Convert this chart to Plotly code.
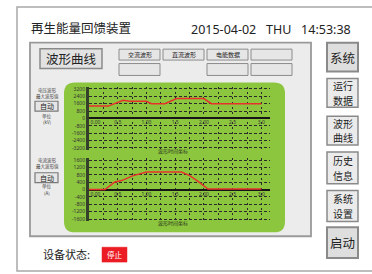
import plotly.graph_objects as go

# ---------------- data ----------------
top_x = [0, 1.34, 2.38, 2.85, 4.0, 4.35, 5.28, 5.63, 6.1, 7.99, 8.52, 12.0]
top_y = [1340, 1340, 1960, 1860, 1860, 1600, 1600, 1860, 2150, 2150, 1600, 1600]
bot_x = [0, 1.11, 1.8, 2.27, 3.08, 4.0, 6.44, 7.01, 7.59, 8.28, 12.0]
bot_y = [0, 0, 420, 490, 760, 960, 960, 760, 450, 30, 30]

top_ticks = [-3200, -2400, -1600, -800, 0, 800, 1600, 2400, 3200]
top_ticktext = ["-3200", "-2400", "-1600", "-800", "0", "800", "1600", "2400", "3200"]
bot_ticks = [-1600, -1200, -800, -400, 0, 400, 800, 1200, 1600]
bot_ticktext = ["-1600", "-1200", "-800", "-400", "0", "400", "800", "1200", "1600"]
x_tickvals = [0.45, 2, 4, 6, 8, 10, 12]
x_ticktext = ["0.00", "0.5", "1.00", "1.5", "2.00", "2.5", "3.0"]

title_text = "再生能量回馈装置"
date_text = "2015-04-02   THU   14:53:38"
tab_labels = ["交流波形", "直流波形", "电能数据", ""]
side_buttons = [["系统"], ["运行", "数据"], ["波形", "曲线"], ["历史", "信息"], ["系统", "设置"], ["启动"]]
status_label = "设备状态:"
status_value = "停止"

# ---------------- helpers ----------------
W, H = 372, 274
def X(px): return px / W
def Y(py): return 1 - py / H
def P(px, py): return f"{X(px):.5f},{Y(py):.5f}"

CJK = "Noto Sans CJK SC"
shapes = []
ann = []

def rect(x0, y0, x1, y1, fill="rgba(0,0,0,0)", line="#8c8c8c", lw=1.5):
    shapes.append(dict(type="rect", xref="paper", yref="paper", x0=X(x0), x1=X(x1), y0=Y(y1), y1=Y(y0),
                       fillcolor=fill, line=dict(color=line, width=lw), layer="below"))

def text(px, py, s, size, color="#222", font=CJK, xanchor="center"):
    ann.append(dict(xref="paper", yref="paper", x=X(px), y=Y(py), text=s, showarrow=False,
                    xanchor=xanchor, yanchor="middle", borderpad=0,
                    font=dict(size=size, color=color, family=font)))

def rrect_path(x0, y0, x1, y1, r):
    return (f"M {P(x0+r,y0)} L {P(x1-r,y0)} Q {P(x1,y0)} {P(x1,y0+r)} L {P(x1,y1-r)} "
            f"Q {P(x1,y1)} {P(x1-r,y1)} L {P(x0+r,y1)} Q {P(x0,y1)} {P(x0,y1-r)} "
            f"L {P(x0,y0+r)} Q {P(x0,y0)} {P(x0+r,y0)} Z")

# outer frame and panel
rect(17, 6, 385, 272, line="#a8a8a8", lw=1.5)
rect(30, 42, 311, 237, fill="#ececec", line="#9a9a9a", lw=1.8)
# buttons
rect(40, 48, 102, 68, fill="#e2e2e2", line="#8a8a8a", lw=1.5)
text(71, 58, "波形曲线", 12.5)
tab_x = [119, 163, 207, 251]
for tx, lab in zip(tab_x, tab_labels):
    rect(tx, 48.5, tx + 41, 59.5, fill="#e6e6e6", line="#8c8c8c", lw=1)
    if lab:
        text(tx + 20.5, 54, lab, 6)
for tx in [119, 207, 251]:
    rect(tx, 63, tx + 41, 75, fill="#e6e6e6", line="#8c8c8c", lw=1)

# green area
shapes.append(dict(type="path", xref="paper", yref="paper", path=rrect_path(64, 82, 285, 233, 11),
                   fillcolor="#8cc63f", line=dict(width=0), layer="below"))

# left small labels
for (y1, y2, yb, yu1, yu2, l1, unit) in [(90, 96, 106, 116, 122, "电压波形", "(kV)"), (161, 167, 178, 187, 193, "电流波形", "(A)")]:
    text(47, y1, l1, 4.5, "#444")
    text(47, y2, "最大波形值", 4.5, "#444")
    rect(35, yb - 5, 58, yb + 5, fill="#e6e6e6", line="#7a7a7a", lw=1.2)
    text(46.5, yb, "自动", 7)
    text(47, yu1, "单位", 4.5, "#444")
    text(47, yu2, unit, 4.5, "#444")

# chart sub-titles
text(173, 151.5, "波形时间坐标", 5, "#2d3b1c")
text(173, 224, "波形时间坐标", 5, "#2d3b1c")

# title / date
text(30, 27, title_text, 12.5, xanchor="left")
text(352, 29, date_text.replace(" ", "&nbsp;"), 12.5, font="Noto Sans", xanchor="right")

# side buttons
side_y = [(42, 71), (78, 107), (116, 145), (152, 184), (191, 222), (228, 259)]
for lines, (y0, y1) in zip(side_buttons, side_y):
    heavy = len(lines) == 1
    rect(327, y0, 358, y1, fill="#dedede" if heavy else "#ebebeb", line="#8a8a8a", lw=2 if heavy else 1.5)
    mid = (y0 + y1) / 2
    if heavy:
        text(342.5, mid, lines[0], 12.5)
    else:
        text(342.5, mid - 7.4, lines[0], 10)
        text(342.5, mid + 7.4, lines[1], 10)

# status
text(42, 255, status_label, 11, xanchor="left")
rect(102, 248, 127, 263, fill="#ec1c24", line="#ec1c24", lw=0.5)
text(114.5, 255.5, status_value, 7.5, "white")

fig = go.Figure()
fig.add_trace(go.Scatter(x=top_x, y=top_y, mode="lines", line=dict(color="#e8312a", width=1.5),
                         xaxis="x", yaxis="y", showlegend=False, hoverinfo="skip"))
fig.add_trace(go.Scatter(x=bot_x, y=bot_y, mode="lines", line=dict(color="#e8312a", width=1.5),
                         xaxis="x2", yaxis="y2", showlegend=False, hoverinfo="skip"))

grid_c = "#2a2a2a"
tickfont = dict(size=5, color="#333", family="Noto Sans")

def xaxis_cfg(zero_py):
    return dict(domain=[X(89), X(270)], range=[0, 12.6], showgrid=False, zeroline=False, showline=False,
                tickmode="array", tickvals=x_tickvals, ticktext=x_ticktext, tickfont=tickfont,
                anchor="free", position=Y(zero_py), ticks="", fixedrange=True,
                minor=dict(tickmode="linear", tick0=0, dtick=1, showgrid=True, griddash="2px,3px",
                           gridcolor=grid_c, gridwidth=1))

def yaxis_cfg(zero_py, step_val, step_px, ticks, ticktext, xname):
    half = 4.25 * step_val
    top_px = zero_py - 4.25 * step_px
    bot_px = zero_py + 4.25 * step_px
    return dict(domain=[Y(bot_px), Y(top_px)], range=[-half, half], tickmode="array", tickvals=ticks,
                ticktext=ticktext, tickfont=tickfont, showgrid=True, griddash="3px,2px", gridcolor=grid_c,
                gridwidth=1, zeroline=True, zerolinecolor="#151515", zerolinewidth=1.8, showline=True,
                linecolor="#34402a", linewidth=3, anchor=xname, ticks="", fixedrange=True)

fig.update_layout(
    width=W, height=H, margin=dict(l=0, r=0, t=0, b=0),
    paper_bgcolor="white", plot_bgcolor="rgba(0,0,0,0)",
    xaxis=xaxis_cfg(118.3),
    yaxis=yaxis_cfg(118.3, 800, 7.43, top_ticks, top_ticktext, "x"),
    xaxis2=xaxis_cfg(190),
    yaxis2=yaxis_cfg(190, 400, 7.41, bot_ticks, bot_ticktext, "x2"),
    shapes=shapes, annotations=ann, showlegend=False,
)
fig.write_html("out.html", config={"displayModeBar": False},
               post_script="document.body.style.margin='0';document.body.style.overflow='hidden';")
